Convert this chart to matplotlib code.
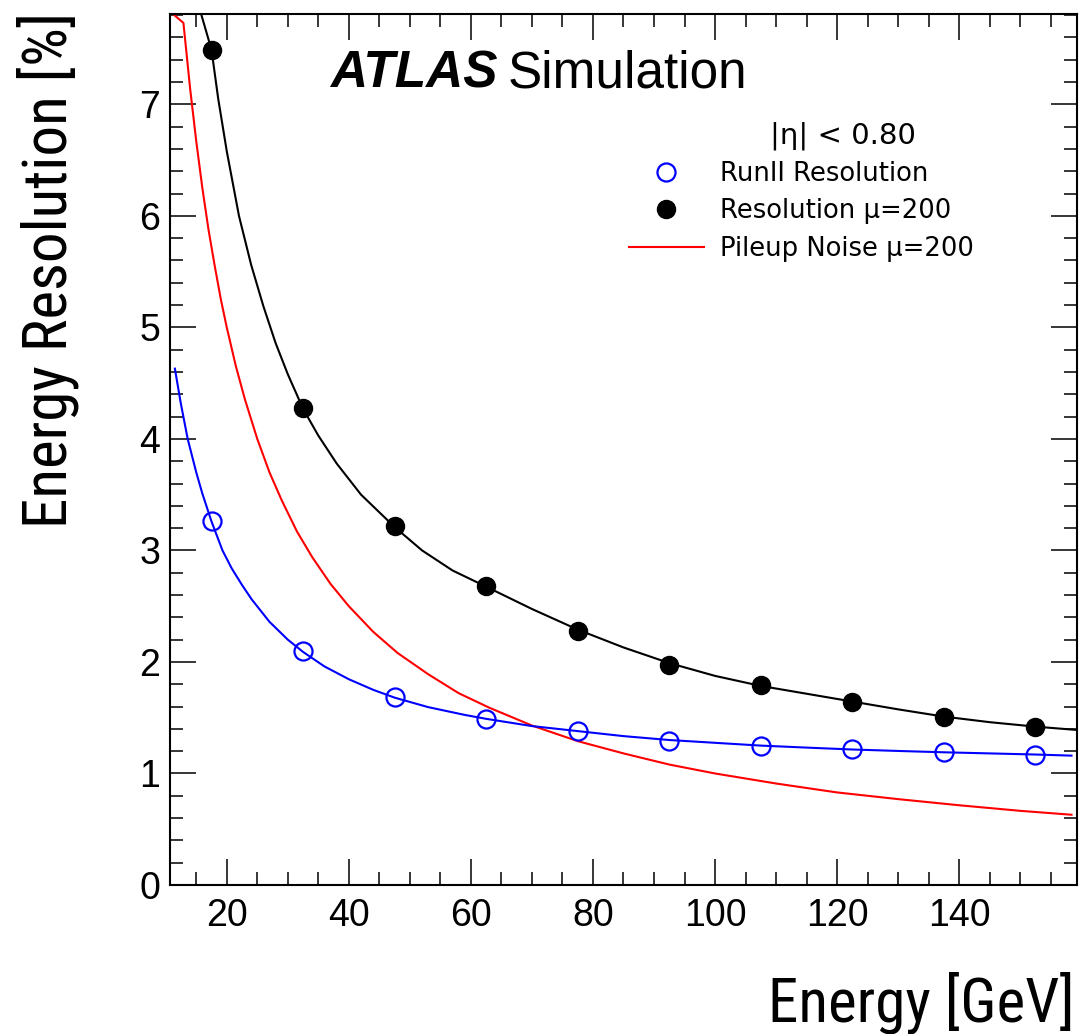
import matplotlib
matplotlib.use("Agg")
import matplotlib.pyplot as plt
from matplotlib import font_manager
from matplotlib.lines import Line2D
from matplotlib.ticker import MultipleLocator

plt.rcParams['font.family'] = ['Liberation Sans', 'DejaVu Sans']

# measured points (bin centres)
energy = [17.5, 32.5, 47.5, 62.5, 77.5, 92.5, 107.5, 122.5, 137.5, 152.5]
res_mu200 = [7.49, 4.28, 3.22, 2.68, 2.28, 1.97, 1.79, 1.645, 1.51, 1.42]
res_run2 = [3.26, 2.10, 1.69, 1.49, 1.38, 1.29, 1.245, 1.215, 1.19, 1.17]

# fit curves
fit_mu200_x = [15.8, 17.5, 18.6, 20, 22, 24, 26, 28, 30, 32.5, 35, 38, 42, 47.5,
               52, 57, 62.5, 70, 77.5, 85, 92.5, 100, 107.5, 115, 122.5, 130,
               137.5, 145, 152.5, 159.3]
fit_mu200_y = [7.81, 7.49, 7.05, 6.58, 6.0, 5.56, 5.19, 4.86, 4.58, 4.27, 4.03,
               3.78, 3.50, 3.21, 3.00, 2.82, 2.675, 2.475, 2.29, 2.13, 1.99,
               1.875, 1.785, 1.715, 1.645, 1.575, 1.51, 1.46, 1.42, 1.39]

fit_run2_x = [11.5, 12.5, 13.6, 15, 16, 17.5, 19.3, 20.8, 22.5, 24.1, 27, 30,
              32.5, 36, 40, 44, 47.5, 53, 59, 62.5, 70, 77.5, 85, 92.5, 100,
              107.5, 115, 122.5, 130, 137.5, 145, 152.5, 158.4]
fit_run2_y = [4.63, 4.31, 4.0, 3.70, 3.51, 3.26, 3.0, 2.84, 2.69, 2.56, 2.36,
              2.20, 2.09, 1.96, 1.845, 1.75, 1.68, 1.595, 1.525, 1.49, 1.425,
              1.38, 1.335, 1.30, 1.275, 1.25, 1.232, 1.215, 1.202, 1.19, 1.18,
              1.17, 1.16]

pileup_x = [11.2, 12.9, 14, 15, 16, 17, 18, 19, 20, 21.5, 23, 25, 27, 29, 31.5,
            34, 37, 40, 44, 48, 53, 58, 63, 70, 77.5, 85, 92.5, 100, 110, 120,
            130, 140, 150, 158.4]
pileup_y = [7.81, 7.73, 7.14, 6.67, 6.25, 5.88, 5.56, 5.26, 5.0, 4.65, 4.35,
            4.0, 3.70, 3.45, 3.17, 2.94, 2.70, 2.50, 2.27, 2.08, 1.89, 1.72,
            1.59, 1.43, 1.29, 1.18, 1.08, 1.0, 0.91, 0.83, 0.77, 0.715, 0.665,
            0.63]

fig = plt.figure(figsize=(10.79, 10.34), dpi=100)
ax = fig.add_axes([0.15755, 0.14410, 0.84059, 0.84236])

ax.plot(pileup_x, pileup_y, color='red', lw=1.5)
ax.plot(fit_run2_x, fit_run2_y, color='blue', lw=1.5)
ax.plot(fit_mu200_x, fit_mu200_y, color='black', lw=1.5)
ax.plot(energy, res_run2, 'o', ms=13, mfc='none', mec='blue', mew=1.6)
ax.plot(energy, res_mu200, 'o', ms=13, color='black')

ax.set_xlim(10.7, 159.3)
ax.set_ylim(0, 7.81)

ax.xaxis.set_major_locator(MultipleLocator(20))
ax.xaxis.set_minor_locator(MultipleLocator(5))
ax.yaxis.set_major_locator(MultipleLocator(1))
ax.yaxis.set_minor_locator(MultipleLocator(0.2))
ax.tick_params(which='both', direction='in', top=True, right=True, width=1.1)
ax.tick_params(which='major', length=19, labelsize=27)
ax.tick_params(which='minor', length=9.5)
ax.tick_params(axis='x', which='major', pad=9)
ax.tick_params(axis='y', which='major', pad=7)
for s in ax.spines.values():
    s.set_linewidth(1.5)

# axis titles are set in a narrow face in the original
installed = {f.name for f in font_manager.fontManager.ttflist}
if 'Roboto Condensed' in installed:
    title_font, title_size, ylab_x = 'Roboto Condensed', 44, 0.015
else:
    title_font, title_size, ylab_x = 'Liberation Sans', 36.5, 0.025

fig.text(0.9963, 1 - 1022 / 1034, 'Energy [GeV]', fontsize=title_size,
         family=title_font, ha='right', va='baseline')
fig.text(ylab_x, 0.9885, 'Energy Resolution [%]', fontsize=title_size,
         rotation=90, family=title_font, ha='left', va='top')

fig.text(330 / 1079, 1 - 88 / 1034, 'ATLAS', fontsize=37, fontweight='bold',
         fontstyle='italic', ha='left', va='baseline')
fig.text(508 / 1079, 1 - 88 / 1034, 'Simulation', fontsize=37,
         ha='left', va='baseline')
fig.text(770 / 1079, 1 - 144 / 1034, '|η| < 0.80', fontsize=21,
         family='DejaVu Sans', ha='left', va='baseline')

handles = [
    Line2D([], [], ls='none', marker='o', ms=13, mfc='none', mec='blue', mew=1.6),
    Line2D([], [], ls='none', marker='o', ms=13, color='black'),
    Line2D([], [], color='red', lw=1.5),
]
labels = ['RunII Resolution', 'Resolution μ=200', 'Pileup Noise μ=200']
ax.legend(handles, labels, loc='upper left', frameon=False,
          prop={'family': 'DejaVu Sans', 'size': 18.6},
          bbox_to_anchor=(629 / 1079, 1 - 161 / 1034),
          bbox_transform=fig.transFigure, borderpad=0, borderaxespad=0,
          handlelength=2.9, handletextpad=0.62, labelspacing=0.44)

fig.savefig('out.png', dpi=100)
